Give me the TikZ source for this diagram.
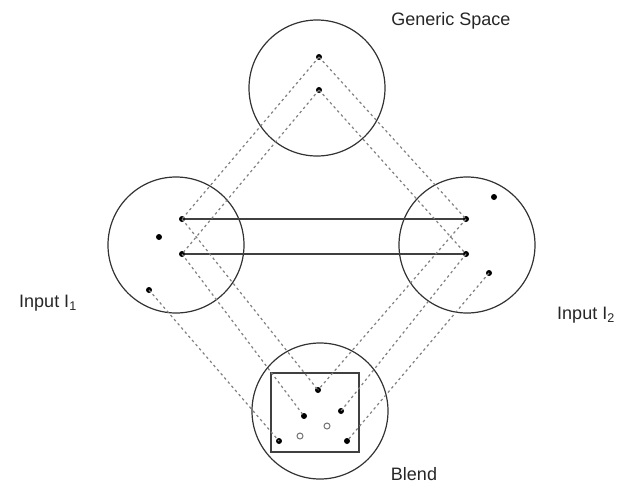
\documentclass[tikz,border=0pt]{standalone}
\usepackage{fontspec}
\setmainfont{Liberation Sans}
\begin{document}
\begin{tikzpicture}[x=1pt,y=-1pt,
  space/.style={circle,draw=black!80,line width=1.2pt,minimum size=136pt,inner sep=0pt},
  dot/.style={circle,fill=black,inner sep=0pt,minimum size=6pt},
  hollow/.style={circle,draw=black!55,fill=white,line width=1pt,inner sep=0pt,minimum size=6pt},
  map/.style={black!50,line width=1.2pt,dash pattern=on 2.5pt off 3pt},
  link/.style={black!75,line width=1.5pt},
  lab/.style={font=\fontsize{18}{21}\selectfont,text=black!85}]
  \useasboundingbox (0,0) rectangle (619,488);

  % The four mental spaces
  \node[space] (generic) at (317,88) {};
  \node[space] (input1) at (176,245) {};
  \node[space] (input2) at (467,245) {};
  \node[space] (blend) at (320,411) {};
  \draw[link] (271,373) rectangle (359,452);

  % Elements of the generic space
  \node[dot] (g1) at (319,57) {};
  \node[dot] (g2) at (319,90) {};

  % Elements of input 1
  \node[dot] (a1) at (182,219) {};
  \node[dot] (a2) at (182,254) {};
  \node[dot] (a3) at (159,237) {};
  \node[dot] (a4) at (149,290) {};

  % Elements of input 2
  \node[dot] (b1) at (466,219) {};
  \node[dot] (b2) at (466,254) {};
  \node[dot] (b3) at (494,197) {};
  \node[dot] (b4) at (489,273) {};

  % Elements of the blend (hollow ones are emergent)
  \node[dot] (c1) at (318,390) {};
  \node[dot] (c2) at (304,416) {};
  \node[dot] (c3) at (341,411) {};
  \node[dot] (c4) at (279,441) {};
  \node[dot] (c5) at (347,441) {};
  \node[hollow] (e1) at (327,426) {};
  \node[hollow] (e2) at (300,436) {};

  % Cross-space mapping
  \draw[link] (a1) -- (b1);
  \draw[link] (a2) -- (b2);

  % Generic space to the inputs
  \draw[map] (g1.center) -- (a1.center);
  \draw[map] (g2.center) -- (a2.center);
  \draw[map] (g1.center) -- (b1.center);
  \draw[map] (g2.center) -- (b2.center);

  % Projection into the blend
  \draw[map] (a1.center) -- (c1.center);
  \draw[map] (a2.center) -- (c2.center);
  \draw[map] (a4.center) -- (c4.center);
  \draw[map] (b1.center) -- (c1.center);
  \draw[map] (b2.center) -- (c3.center);
  \draw[map] (b4.center) -- (c5.center);

  % Labels
  \node[lab] (lgeneric) at (451,21) {Generic Space};
  \node[lab] (linput1) at (48,303) {Input I\textsubscript{1}};
  \node[lab] (linput2) at (586,315) {Input I\textsubscript{2}};
  \node[lab] (lblend) at (414,474) {Blend};
\end{tikzpicture}
\end{document}
